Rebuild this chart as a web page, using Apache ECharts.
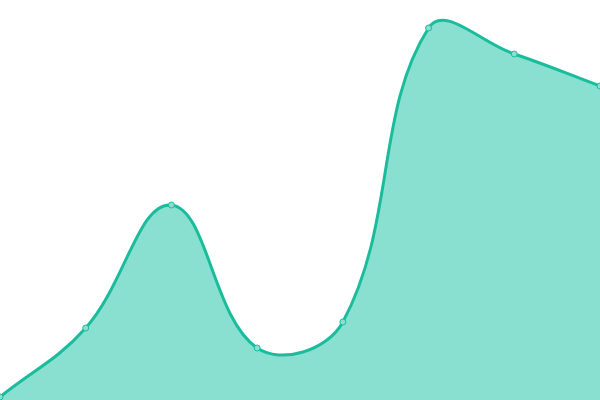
<!DOCTYPE html>
<html><head><meta charset="utf-8">
<script src="https://cdn.jsdelivr.net/npm/echarts@6/dist/echarts.min.js"></script>
<style>html,body{margin:0;padding:0;background:#fff}#c{width:600px;height:400px}</style>
</head><body><div id="c"></div>
<script>
const categories = ['1','2','3','4','5','6','7','8'];
const values = [3, 72, 195, 52, 78, 372, 346, 314];
const LINE = '#1abc9c', AREA = '#8ae0d0', TENSION = 0.4;

function splinePath(pts) {
  // cardinal-style control points (tension-based), built in pixel space
  const cps = pts.map((p, i) => {
    const prev = pts[Math.max(0, i - 1)], next = pts[Math.min(pts.length - 1, i + 1)];
    const d01 = Math.hypot(p[0] - prev[0], p[1] - prev[1]);
    const d12 = Math.hypot(next[0] - p[0], next[1] - p[1]);
    let s01 = d01 / (d01 + d12), s12 = d12 / (d01 + d12);
    if (!isFinite(s01)) s01 = 0; if (!isFinite(s12)) s12 = 0;
    const fa = TENSION * s01, fb = TENSION * s12;
    return {
      prev: [p[0] - fa * (next[0] - prev[0]), p[1] - fa * (next[1] - prev[1])],
      next: [p[0] + fb * (next[0] - prev[0]), p[1] + fb * (next[1] - prev[1])]
    };
  });
  let d = 'M' + pts[0][0] + ' ' + pts[0][1];
  for (let i = 1; i < pts.length; i++) {
    const a = cps[i - 1].next, b = cps[i].prev, p = pts[i];
    d += ' C' + a[0] + ' ' + a[1] + ' ' + b[0] + ' ' + b[1] + ' ' + p[0] + ' ' + p[1];
  }
  return d;
}

const chart = echarts.init(document.getElementById('c'));
chart.setOption({
  animation: false,
  grid: {left: 0, right: 0, top: 0, bottom: 0},
  xAxis: {type: 'category', data: categories, boundaryGap: false, show: false},
  yAxis: {type: 'value', min: 0, max: 400, show: false},
  series: [{
    type: 'custom', data: [0], clip: false, z: 2,
    renderItem: function (params, api) {
      const pts = values.map((v, i) => api.coord([i, v]));
      const base = api.coord([0, 0])[1];
      const line = splinePath(pts);
      const last = pts[pts.length - 1], first = pts[0];
      const area = line + ' L' + last[0] + ' ' + base + ' L' + first[0] + ' ' + base + ' Z';
      return {type: 'group', children: [
        {type: 'path', shape: {pathData: area}, style: {fill: AREA, stroke: null}},
        {type: 'path', shape: {pathData: line}, style: {fill: null, stroke: LINE, lineWidth: 3}}
      ]};
    }
  }, {
    type: 'line', data: values, z: 3,
    symbol: 'circle', symbolSize: 6,
    itemStyle: {color: AREA, borderColor: LINE, borderWidth: 1},
    lineStyle: {width: 0, opacity: 0}
  }]
});
</script></body></html>
